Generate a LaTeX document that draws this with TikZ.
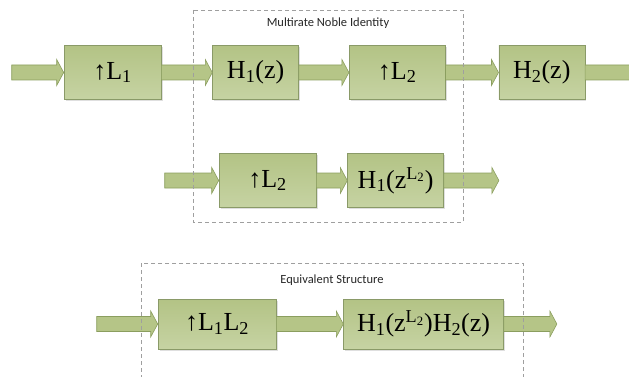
\documentclass[tikz,border=0pt]{standalone}
\usepackage{fontspec}
\setmainfont{Liberation Serif}
\newfontfamily\boxfont{Liberation Serif}
\newfontfamily\labelfont{Carlito}
\usetikzlibrary{positioning, calc, shadows}

\definecolor{boxtop}{HTML}{B3C385}
\definecolor{boxbot}{HTML}{C6D3A3}
\definecolor{boxline}{HTML}{8A9A68}
\definecolor{flowfill}{HTML}{B5C587}
\definecolor{flowline}{HTML}{8B9E5F}

% block arrow from one node to another
\newcommand{\flowarrow}[2]{%
  \path[flow] let \p1=(#1), \p2=(#2) in
    (\x1,\y1+7.5pt) -- (\x2-7pt,\y1+7.5pt) -- (\x2-7pt,\y1+13pt) -- (\x2,\y1)
    -- (\x2-7pt,\y1-13pt) -- (\x2-7pt,\y1-7.5pt) -- (\x1,\y1-7.5pt) -- cycle;}

\begin{document}
\begin{tikzpicture}[
    x=1pt, y=-1pt,
    node distance=51pt,
    block/.style={rectangle, draw=boxline, line width=0.6pt, top color=boxtop, bottom color=boxbot, minimum height=54pt, inner sep=0pt, font=\boxfont\fontsize{26}{30}\selectfont, drop shadow={shadow xshift=1.5pt, shadow yshift=-1.5pt, opacity=0.25}},
    flow/.style={draw=flowline, fill=flowfill, line width=0.6pt, line join=miter},
    frame/.style={draw=gray!75, dash pattern=on 4pt off 3pt, line width=0.6pt},
    title/.style={font=\labelfont\fontsize{12.5}{14}\selectfont, text=black!85}
]
\useasboundingbox (0,0) rectangle (629,377);

% Upper chain
\node[block, minimum width=97pt] (up1) at (112.5,72.5) {↑L\textsubscript{1}};
\node[block, minimum width=86pt, right=51pt of up1] (h1) {H\textsubscript{1}(z)};
\node[block, minimum width=96pt, right=50pt of h1] (up2) {↑L\textsubscript{2}};
\node[block, minimum width=86pt, right=53pt of up2] (h2) {H\textsubscript{2}(z)};

% Swapped pair
\node[block, minimum width=97pt] (up2b) at (267.5,180.5) {↑L\textsubscript{2}};
\node[block, minimum width=96pt, right=31pt of up2b] (h1b) {H\textsubscript{1}(z\textsuperscript{L\textsubscript{2}})};

% Equivalent chain
\node[block, minimum width=118pt, minimum height=50pt] (upll) at (217,324) {↑L\textsubscript{1}L\textsubscript{2}};
\node[block, minimum width=160pt, minimum height=50pt, right=67pt of upll] (h12) {H\textsubscript{1}(z\textsuperscript{L\textsubscript{2}})H\textsubscript{2}(z)};

% Free ends
\coordinate[left=52pt of up1.west] (in1);
\coordinate[right=54pt of h2.east] (out1);
\coordinate[left=54pt of up2b.west] (in2);
\coordinate[right=55pt of h1b.east] (out2);
\coordinate[left=61pt of upll.west] (in3);
\coordinate[right=53pt of h12.east] (out3);

% Arrows
\flowarrow{in1}{up1.west}
\flowarrow{up1.east}{h1.west}
\flowarrow{h1.east}{up2.west}
\flowarrow{up2.east}{h2.west}
\flowarrow{h2.east}{out1}
\flowarrow{in2}{up2b.west}
\flowarrow{up2b.east}{h1b.west}
\flowarrow{h1b.east}{out2}
\flowarrow{in3}{upll.west}
\flowarrow{upll.east}{h12.west}
\flowarrow{h12.east}{out3}

% Frames
\draw[frame] (193,10) rectangle (463,222);
\node[title] (noble) at (328,23) {Multirate Noble Identity};
\draw[frame] (141,263) rectangle (523,378);
\node[title] (equiv) at (332,280) {Equivalent Structure};

\end{tikzpicture}
\end{document}
